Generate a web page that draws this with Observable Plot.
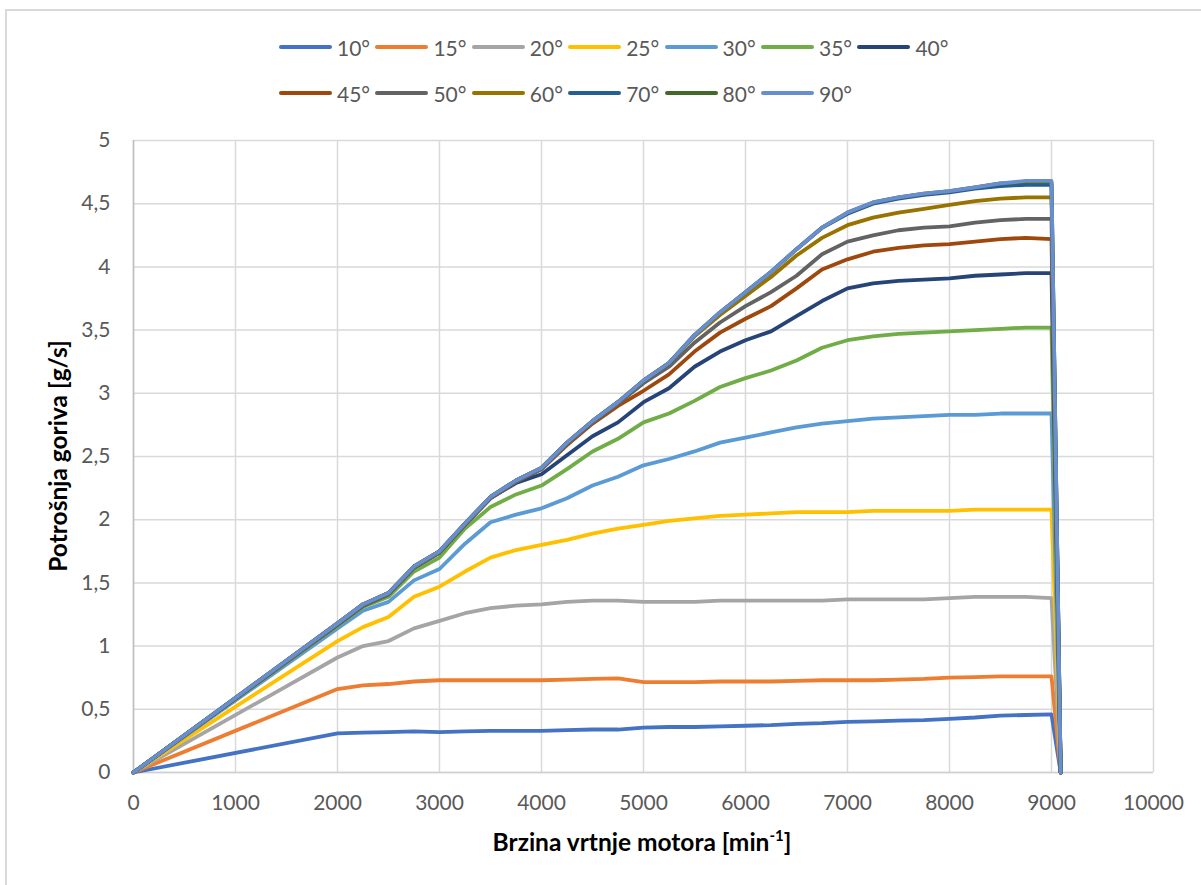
<!DOCTYPE html>
<html><head><meta charset="utf-8">
<script src="https://cdn.jsdelivr.net/npm/d3@7"></script>
<script src="https://cdn.jsdelivr.net/npm/@observablehq/plot@0.6"></script>
<style>
body{margin:0;background:#fff;font-family:Lato, sans-serif;}
#wrap{position:relative;width:1201px;height:885px;overflow:hidden;background:#fff;}
#frame{position:absolute;left:5px;top:9px;width:1300px;height:1000px;border:2px solid #D9D9D9;box-sizing:border-box;}
.item{position:absolute;height:24px;display:flex;align-items:center;font-size:21px;color:#595959;white-space:nowrap;}
.sw{width:53px;height:4px;margin-right:5px;border-radius:2px;}
#chart{position:absolute;left:0;top:120px;}
</style></head>
<body><div id="wrap"><div id="frame"></div><div id="legend"></div><div id="chart"></div></div>
<script>
const rpm = [0,2000,2250,2500,2750,3000,3250,3500,3750,4000,4250,4500,4750,5000,5250,5500,5750,6000,6250,6500,6750,7000,7250,7500,7750,8000,8250,8500,8750,9000,9090];
const labels = ["10°","15°","20°","25°","30°","35°","40°","45°","50°","60°","70°","80°","90°"];
const colors = ["#4472C4","#ED7D31","#A5A5A5","#FFC000","#5B9BD5","#70AD47","#264478","#9E480E","#636363","#997300","#255E91","#43682B","#698ED0"];
const xTicks = [0,1000,2000,3000,4000,5000,6000,7000,8000,9000,10000];
const yTicks = [0,0.5,1,1.5,2,2.5,3,3.5,4,4.5,5];

const s10 = [0,0.31,0.315,0.32,0.325,0.32,0.325,0.33,0.33,0.33,0.335,0.34,0.34,0.355,0.36,0.36,0.365,0.37,0.375,0.385,0.39,0.40,0.405,0.41,0.415,0.425,0.435,0.45,0.455,0.46,0];
const s15 = [0,0.66,0.69,0.70,0.72,0.73,0.73,0.73,0.73,0.73,0.735,0.74,0.745,0.715,0.715,0.715,0.72,0.72,0.72,0.725,0.73,0.73,0.73,0.735,0.74,0.75,0.755,0.76,0.76,0.76,0];
const s20 = [0,0.91,1.00,1.04,1.14,1.20,1.26,1.30,1.32,1.33,1.35,1.36,1.36,1.35,1.35,1.35,1.36,1.36,1.36,1.36,1.36,1.37,1.37,1.37,1.37,1.38,1.39,1.39,1.39,1.38,0];
const s25 = [0,1.04,1.15,1.23,1.39,1.47,1.59,1.70,1.76,1.80,1.84,1.89,1.93,1.96,1.99,2.01,2.03,2.04,2.05,2.06,2.06,2.06,2.07,2.07,2.07,2.07,2.08,2.08,2.08,2.08,0];
const s30 = [0,1.14,1.28,1.35,1.52,1.61,1.81,1.98,2.04,2.09,2.17,2.27,2.34,2.43,2.48,2.54,2.61,2.65,2.69,2.73,2.76,2.78,2.80,2.81,2.82,2.83,2.83,2.84,2.84,2.84,0];
const s35 = [0,1.16,1.31,1.39,1.59,1.70,1.93,2.10,2.20,2.27,2.40,2.54,2.64,2.77,2.84,2.94,3.05,3.12,3.18,3.26,3.36,3.42,3.45,3.47,3.48,3.49,3.50,3.51,3.52,3.52,0];
const s40 = [0,1.17,1.32,1.41,1.62,1.74,1.96,2.17,2.29,2.36,2.51,2.66,2.77,2.93,3.04,3.21,3.33,3.42,3.49,3.61,3.73,3.83,3.87,3.89,3.90,3.91,3.93,3.94,3.95,3.95,0];
const s45 = [0,1.17,1.32,1.41,1.62,1.74,1.96,2.17,2.30,2.40,2.59,2.76,2.90,3.02,3.15,3.33,3.48,3.59,3.69,3.83,3.98,4.06,4.12,4.15,4.17,4.18,4.20,4.22,4.23,4.22,0];
const s50 = [0,1.17,1.32,1.41,1.62,1.74,1.96,2.17,2.30,2.40,2.60,2.77,2.92,3.08,3.21,3.40,3.56,3.69,3.80,3.93,4.10,4.20,4.25,4.29,4.31,4.32,4.35,4.37,4.38,4.38,0];
const s60 = [0,1.18,1.33,1.42,1.63,1.75,1.97,2.18,2.31,2.41,2.61,2.78,2.93,3.10,3.24,3.45,3.62,3.77,3.92,4.09,4.23,4.33,4.39,4.43,4.46,4.49,4.52,4.54,4.55,4.55,0];
const s70 = [0,1.18,1.33,1.42,1.63,1.75,1.97,2.18,2.31,2.41,2.61,2.78,2.93,3.10,3.24,3.46,3.64,3.80,3.96,4.14,4.31,4.42,4.50,4.54,4.57,4.59,4.62,4.64,4.65,4.65,0];
const s80 = [0,1.18,1.33,1.42,1.63,1.75,1.97,2.18,2.31,2.41,2.61,2.78,2.93,3.10,3.24,3.46,3.64,3.80,3.96,4.14,4.31,4.43,4.51,4.55,4.58,4.60,4.63,4.66,4.67,4.67,0];
const s90 = [0,1.18,1.33,1.42,1.63,1.75,1.97,2.18,2.31,2.41,2.61,2.78,2.93,3.10,3.24,3.46,3.64,3.80,3.96,4.14,4.31,4.43,4.51,4.55,4.58,4.60,4.63,4.66,4.68,4.68,0];

const seriesValues = [s10,s15,s20,s25,s30,s35,s40,s45,s50,s60,s70,s80,s90];
const rows = labels.flatMap((lab,i)=> rpm.map((r,j)=>({s:lab, rpm:r, v:seriesValues[i][j]})));

// legend
const legend = document.getElementById("legend");
labels.forEach((lab,i)=>{
  const row = i<7?0:1, col = i<7?i:i-7;
  const el = document.createElement("div");
  el.className = "item";
  el.style.left = (279+96.4*col)+"px";
  el.style.top = (row===0?35:81)+"px";
  const sw = document.createElement("span");
  sw.className = "sw"; sw.style.background = colors[i];
  el.appendChild(sw);
  el.appendChild(document.createTextNode(lab));
  legend.appendChild(el);
});

const W = 1201, H = 765;
const fmt = d => String(d).replace(".", ",");
const chart = Plot.plot({
  width: W, height: H,
  marginTop: 20, marginBottom: 113, marginLeft: 133, marginRight: 48,
  style: {fontFamily: "Lato, sans-serif", fontSize: "21px", color: "#595959", background: "transparent", overflow: "visible"},
  x: {domain: [0,10000], label: null},
  y: {domain: [0,5], label: null},
  color: {domain: labels, range: colors},
  marks: [
    Plot.gridX(xTicks, {stroke: "#D9D9D9", strokeOpacity: 1, strokeWidth: 1.5}),
    Plot.gridY(yTicks, {stroke: "#D9D9D9", strokeOpacity: 1, strokeWidth: 1.5}),
    Plot.ruleX([0], {stroke: "#BFBFBF", strokeWidth: 1.5}),
    Plot.ruleY([0], {stroke: "#D0D0D0", strokeWidth: 1.5}),
    Plot.axisX(xTicks, {tickSize: 0, tickPadding: 23, label: null, tickFormat: d => String(d), fill: "#595959"}),
    Plot.axisY(yTicks, {tickSize: 0, tickPadding: 23, label: null, tickFormat: fmt, fill: "#595959"}),
    Plot.line(rows, {x: "rpm", y: "v", z: "s", stroke: "s", strokeWidth: 3.8, curve: "linear", strokeLinejoin: "round", strokeLinecap: "round"})
  ]
});
document.getElementById("chart").appendChild(chart);

const svg = d3.select(chart);
const xt = svg.append("text")
  .attr("x", 642).attr("y", 851 - 120)
  .attr("text-anchor", "middle")
  .attr("font-family", "Lato, sans-serif").attr("font-size", 24.5).attr("font-weight", "bold").attr("fill", "#000");
xt.append("tspan").text("Brzina vrtnje motora [min");
xt.append("tspan").text("-1").attr("font-size", 15).attr("dy", -10);
xt.append("tspan").text("]").attr("dy", 10);

svg.append("text")
  .attr("transform", `translate(67,${456-120}) rotate(-90)`)
  .attr("text-anchor", "middle")
  .attr("font-family", "Lato, sans-serif").attr("font-size", 24.5).attr("font-weight", "bold").attr("fill", "#000")
  .text("Potrošnja goriva [g/s]");
</script>
</body></html>
